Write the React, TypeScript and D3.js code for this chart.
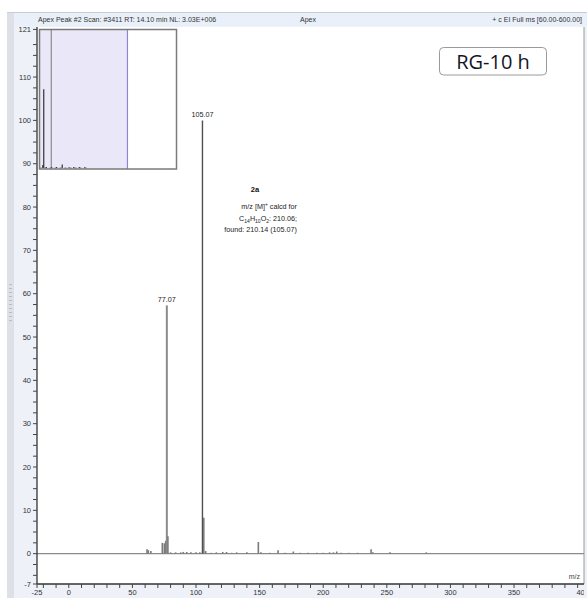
import React from "react";
import * as d3 from "d3";

// ---- spectrum data (m/z, relative abundance) ----
const peakMz = [61.5, 62.5, 64.5, 73.5, 75.1, 76.2, 77.07, 77.9, 80, 84, 88, 90, 92.7, 96, 100, 103, 105.07, 106.1, 107.6, 112, 116, 121, 124, 128, 132, 140, 149, 151, 158, 164.5, 170, 176.5, 182, 188, 195, 200, 205, 208, 210.6, 214, 220, 227, 237.6, 239, 252.5, 281];
const peakAbundance = [1.0, 0.8, 0.6, 2.5, 2.4, 3.0, 57.3, 4.0, 0.3, 0.3, 0.3, 0.4, 0.4, 0.3, 0.3, 0.3, 100, 8.3, 0.6, 0.2, 0.3, 0.4, 0.4, 0.2, 0.3, 0.3, 2.7, 0.3, 0.2, 0.8, 0.2, 0.5, 0.2, 0.2, 0.2, 0.2, 0.3, 0.3, 0.5, 0.2, 0.2, 0.2, 1.0, 0.3, 0.3, 0.3];
const labelledMz = [77.07, 105.07];
const labelledText = ["77.07", "105.07"];

// ---- axis ticks ----
const yMajorTicks = [0, 10, 20, 30, 40, 50, 60, 70, 80, 90, 100, 110];
const yEndTicks = [-7, 121];
const xMajorTicks = [-25, 0, 50, 100, 150, 200, 250, 300, 350, 400];

// ---- chromatogram overview (time, relative intensity) ----
const insetTime = [2.4, 3.1, 5.0, 9.0, 12.5, 16.6, 21.5, 25.0, 29.0, 33.0];
const insetIntensity = [2.2, 57, 0.8, 0.6, 0.8, 2.5, 0.6, 0.8, 0.8, 0.6];
const insetWindow = [0, 64.2];
const insetMarker = 8.6;

const headerLeft = "Apex Peak #2 Scan: #3411  RT: 14.10 min  NL: 3.03E+006";
const headerMid = "Apex";
const headerRight = "+ c EI Full ms [60.00-600.00]";
const sampleTag = "RG-10 h";

const W = 587;
const H = 598;
const FONT = "'Liberation Sans', Arial, sans-serif";

export default function App() {
  const left = 37;
  const right = 584;
  const top = 27;
  const bottom = 584;

  const x = d3.scaleLinear().domain([-25, 405]).range([left, right]);
  const y = d3.scaleLinear().domain([-7, 121]).range([bottom, 29.4]);

  const yMinor = d3.range(-5, 121, 2.5).filter((v) => v % 10 !== 0);
  const xMinor = d3.range(-20, 401, 10).filter((v) => v % 50 !== 0);

  const ix = d3.scaleLinear().domain([0, 100]).range([39.5, 176.5]);
  const iy = d3.scaleLinear().domain([0, 100]).range([168, 30]);

  const y0 = y(0);

  return (
    <svg width={W} height={H} style={{ position: "absolute", left: 0, top: 0, fontFamily: FONT }}>
      <defs>
        <clipPath id="frameClip">
          <rect x={0} y={0} width={right} height={H} />
        </clipPath>
      </defs>
      <rect x={0} y={0} width={W} height={H} fill="#ffffff" />
      {/* window chrome */}
      <rect x={7} y={12} width={W - 7} height={H - 12} fill="#eef2f8" />
      <rect x={7} y={12} width={7} height={H - 12} fill="#dde1e7" />
      {d3.range(0, 10).map((i) => (
        <rect key={"grip" + i} x={9} y={284 + i * 4} width={3} height={1} fill="#b8bdc4" />
      ))}
      <line x1={7} x2={W} y1={12.5} y2={12.5} stroke="#c9cdd3" />
      <rect x={14} y={13} width={W - 14} height={13} fill="#e9f0f9" />
      <text x={38} y={22} fontSize={7} fill="#333">{headerLeft}</text>
      <text x={300} y={22} fontSize={7} fill="#333">{headerMid}</text>
      <text x={582} y={22} fontSize={7} fill="#333" textAnchor="end">{headerRight}</text>

      {/* plot area */}
      <rect x={left} y={top} width={right - left} height={bottom - top} fill="#ffffff" />
      <line x1={right} x2={right} y1={top} y2={bottom} stroke="#9a9a9a" strokeWidth={1} />

      {/* baseline */}
      <line x1={left} x2={right} y1={y0} y2={y0} stroke="#8a8a8a" strokeWidth={1.2} />

      {/* spectrum sticks */}
      {peakMz.map((mz, i) => {
        const big = peakAbundance[i] > 50;
        const isBase = peakAbundance[i] >= 100;
        return (
          <line
            key={"pk" + i}
            x1={x(mz)}
            x2={x(mz)}
            y1={y0}
            y2={y(peakAbundance[i])}
            stroke={isBase ? "#505050" : big ? "#8c8c8c" : "#7a7a7a"}
            strokeWidth={isBase ? 1.4 : big ? 2 : 1.6}
          />
        );
      })}
      {labelledMz.map((mz, i) => {
        const idx = peakMz.indexOf(mz);
        return (
          <text key={"lab" + i} x={x(mz)} y={y(peakAbundance[idx]) - 3} fontSize={7.2} fill="#222" textAnchor="middle">
            {labelledText[i]}
          </text>
        );
      })}

      {/* compound annotation */}
      <text x={255} y={192} fontSize={7.5} fontWeight="bold" fill="#111" textAnchor="middle">2a</text>
      <text x={297} y={209} fontSize={7.2} fill="#222" textAnchor="end">
        m/z [M]<tspan dy={-3} fontSize={5}>+</tspan><tspan dy={3}> calcd for</tspan>
      </text>
      <text x={297} y={220.5} fontSize={7.2} fill="#222" textAnchor="end">
        C<tspan dy={2} fontSize={5}>14</tspan><tspan dy={-2}>H</tspan><tspan dy={2} fontSize={5}>10</tspan><tspan dy={-2}>O</tspan><tspan dy={2} fontSize={5}>2</tspan><tspan dy={-2}>: 210.06;</tspan>
      </text>
      <text x={297} y={231.5} fontSize={7.2} fill="#222" textAnchor="end">found: 210.14 (105.07)</text>

      {/* chromatogram overview */}
      <rect x={ix(0)} y={29.5} width={ix(100) - ix(0)} height={139.5} fill="#ffffff" />
      <rect x={ix(insetWindow[0])} y={29.5} width={ix(insetWindow[1]) - ix(insetWindow[0])} height={139.5} fill="#e9e7f8" />
      <line x1={ix(insetWindow[1])} x2={ix(insetWindow[1])} y1={29.5} y2={169} stroke="#8c86d2" strokeWidth={1.2} />
      <line x1={ix(insetMarker)} x2={ix(insetMarker)} y1={29.5} y2={169} stroke="#8a8a8a" strokeWidth={1.2} />
      <line x1={ix(0)} x2={ix(35)} y1={iy(0)} y2={iy(0)} stroke="#555" strokeWidth={0.8} strokeDasharray="2,3" />
      {insetTime.map((t, i) => (
        <line key={"it" + i} x1={ix(t)} x2={ix(t)} y1={iy(0)} y2={iy(insetIntensity[i])} stroke="#333" strokeWidth={1.2} />
      ))}
      <rect x={ix(0)} y={29.5} width={ix(100) - ix(0)} height={139.5} fill="none" stroke="#7a7a7a" strokeWidth={1.5} />

      {/* y axis */}
      <line x1={left} x2={left} y1={27} y2={bottom} stroke="#333" strokeWidth={1.3} />
      {yMinor.map((v) => (
        <line key={"ym" + v} x1={left - 4} x2={left} y1={y(v)} y2={y(v)} stroke="#444" strokeWidth={1} />
      ))}
      {[...yMajorTicks, ...yEndTicks].map((v) => (
        <g key={"yt" + v}>
          <line x1={left - 4} x2={left} y1={y(v)} y2={y(v)} stroke="#444" strokeWidth={1} />
          <text x={left - 6} y={y(v) + 2.6} fontSize={7.5} fill="#333" textAnchor="end">{v}</text>
        </g>
      ))}

      {/* x axis */}
      <line x1={left} x2={right} y1={bottom} y2={bottom} stroke="#333" strokeWidth={1.3} />
      {xMinor.map((v) => (
        <line key={"xm" + v} x1={x(v)} x2={x(v)} y1={bottom} y2={bottom + 4} stroke="#444" strokeWidth={1} />
      ))}
      <g clipPath="url(#frameClip)">
        {xMajorTicks.map((v) => (
          <g key={"xt" + v}>
            <line x1={x(v)} x2={x(v)} y1={bottom} y2={bottom + 4} stroke="#444" strokeWidth={1} />
            <text x={x(v) + (v === 400 ? 5 : 0)} y={bottom + 11} fontSize={7.5} fill="#333" textAnchor="middle">{v}</text>
          </g>
        ))}
      </g>
      <text x={580} y={579} fontSize={7} fill="#444" textAnchor="end">m/z</text>

      {/* sample tag */}
      <rect x={439.5} y={47.5} width={107} height={27.5} rx={4} ry={4} fill="#ffffff" stroke="#9a9a9a" strokeWidth={1} />
      <text x={493} y={68.5} fontSize={20} fill="#151525" textAnchor="middle" fontFamily="'Open Sans', 'Liberation Sans', sans-serif">{sampleTag}</text>
    </svg>
  );
}
